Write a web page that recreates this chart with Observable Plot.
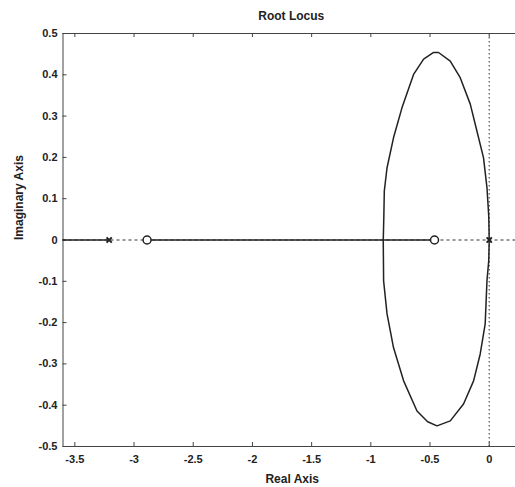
<!DOCTYPE html>
<html>
<head>
<meta charset="utf-8">
<script src="https://cdn.jsdelivr.net/npm/d3@7"></script>
<script src="https://cdn.jsdelivr.net/npm/@observablehq/plot@0.6"></script>
<style>
  html, body { margin: 0; padding: 0; background: #fff; overflow: hidden; }
  #chart svg { display: block; max-width: none; }
</style>
</head>
<body>
<div id="chart"></div>
<script>
// ---- data ----
const xTicks = [-3.5, -3, -2.5, -2, -1.5, -1, -0.5, 0];
const yTicks = [-0.5, -0.4, -0.3, -0.2, -0.1, 0, 0.1, 0.2, 0.3, 0.4, 0.5];
const xDomain = [-3.6, 0.222];
const yDomain = [-0.5, 0.5];

const poles = [-3.21, 0];
const zeros = [-2.89, -0.462];

// real-axis parts of the locus: [start, end]
const realSegments = [[-3.6, -3.21], [-2.89, -0.462]];

// complex branch, upper half (from break-in point to pole at origin)
const upperX = [-0.895, -0.890, -0.886, -0.863, -0.808, -0.737, -0.639, -0.554, -0.470, -0.428, -0.329, -0.245, -0.160, -0.104, -0.048, -0.019, -0.004, 0];
const upperY = [0, 0.058, 0.119, 0.175, 0.248, 0.320, 0.401, 0.438, 0.454, 0.454, 0.433, 0.393, 0.329, 0.264, 0.199, 0.127, 0.058, 0];
// lower half
const lowerX = [-0.895, -0.892, -0.863, -0.808, -0.723, -0.610, -0.520, -0.441, -0.329, -0.217, -0.132, -0.076, -0.034, -0.019, -0.004, 0];
const lowerY = [0, -0.099, -0.179, -0.261, -0.341, -0.414, -0.440, -0.450, -0.438, -0.397, -0.341, -0.276, -0.203, -0.099, -0.050, 0];

const titleText = "Root Locus";
const xLabel = "Real Axis";
const yLabel = "Imaginary Axis";

// ---- build tables ----
const upper = upperX.map((x, i) => ({x, y: upperY[i]}));
const lower = lowerX.map((x, i) => ({x, y: lowerY[i]}));

const ink = "#222";
const W = 515, H = 487;
const mL = 62.5, mT = 33, mB = 41, mR = 0;
const frameH = H - mT - mB, frameW = W - mL - mR;
const tickLen = 4;

const chart = Plot.plot({
  width: W,
  height: H,
  marginLeft: mL,
  marginRight: mR,
  marginTop: mT,
  marginBottom: mB,
  style: {fontFamily: "'Liberation Sans', Arial, sans-serif", fontSize: "11px", background: "#fff", color: ink},
  x: {domain: xDomain, label: null},
  y: {domain: yDomain, label: null},
  marks: [
    // axes guide lines
    Plot.ruleY([0], {stroke: "#333", strokeWidth: 1, strokeDasharray: "3,3"}),
    Plot.ruleX([0], {stroke: "#333", strokeWidth: 1, strokeDasharray: "1.5,2.5"}),
    // frame (left, top, bottom)
    Plot.ruleY(yDomain, {stroke: "#444", strokeWidth: 1}),
    Plot.ruleX([xDomain[0]], {stroke: "#444", strokeWidth: 1}),
    // inward ticks
    Plot.tickX(xTicks, {x: d => d, insetTop: frameH - tickLen, stroke: "#444"}),
    Plot.tickX(xTicks, {x: d => d, insetBottom: frameH - tickLen, stroke: "#444"}),
    Plot.tickY(yTicks, {y: d => d, insetRight: frameW - tickLen, stroke: "#444"}),
    // tick labels
    Plot.axisX(xTicks, {anchor: "bottom", tickSize: 0, tickPadding: 9, tickFormat: d => String(d), fontWeight: "bold", fill: ink, label: null}),
    Plot.axisY(yTicks, {anchor: "left", tickSize: 0, tickPadding: 5.5, tickFormat: d => String(d), fontWeight: "bold", fill: ink, label: null}),
    // locus
    Plot.ruleY(realSegments, {y: 0, x1: d => d[0], x2: d => d[1], stroke: ink, strokeWidth: 1.5}),
    Plot.line(upper, {x: "x", y: "y", stroke: ink, strokeWidth: 1.5}),
    Plot.line(lower, {x: "x", y: "y", stroke: ink, strokeWidth: 1.5}),
    // zeros and poles
    Plot.dot(zeros, {x: d => d, y: 0, r: 4, stroke: ink, strokeWidth: 1.5, fill: "#fff"}),
    Plot.dot(poles, {x: d => d, y: 0, r: 2.5, symbol: "times", stroke: ink, strokeWidth: 2}),
    // titles
    Plot.text([titleText], {text: d => d, frameAnchor: "top", dy: -17, dx: 2, fontSize: 12, fontWeight: "bold", fill: ink, lineAnchor: "middle"}),
    Plot.text([xLabel], {text: d => d, frameAnchor: "bottom", dy: 33, dx: 3, fontSize: 12, fontWeight: "bold", fill: ink, lineAnchor: "middle"}),
    Plot.text([yLabel], {text: d => d, frameAnchor: "left", dx: -43.5, rotate: -90, fontSize: 12, fontWeight: "bold", fill: ink, lineAnchor: "middle"})
  ]
});
document.getElementById("chart").appendChild(chart);
</script>
</body>
</html>
